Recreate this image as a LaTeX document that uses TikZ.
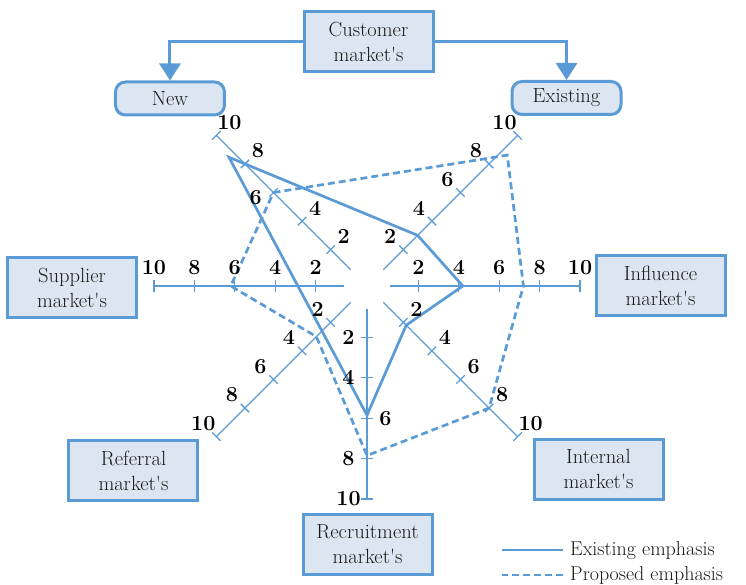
\documentclass[tikz,border=0pt]{standalone}
\usetikzlibrary{arrows.meta}
\definecolor{lineblue}{RGB}{91,155,213}
\definecolor{boxfill}{RGB}{220,230,242}
\newcommand{\mkt}[1]{#1\\market\textquotesingle s}
\begin{document}
\begin{tikzpicture}[x=1pt, y=1pt, font=\fontsize{20.5}{25}\selectfont,
		declare function={gap=11; scl=20.2; ax(\v)=gap+scl*\v;},
		mbox/.style={draw=lineblue, fill=boxfill, line width=3pt, text=black!90,
			minimum width=129pt, minimum height=60pt, align=center, inner sep=0pt},
		rbox/.style={mbox, rounded corners=10pt, minimum width=109pt, minimum height=33pt},
		axis/.style={lineblue, line width=1.3pt},
		emph/.style={lineblue, line width=2.7pt},
		num/.style={font=\fontsize{21.5}{21.5}\selectfont\bfseries, inner sep=0pt}]
		\useasboundingbox (-367,-299) rectangle (379,286);
		% axes with ticks
		\foreach \a in {0,45,135,180,225,270,315}{
			\begin{scope}[rotate=\a]
				\draw[axis] ({ax(0.6)},0) -- ({ax(10)},0);
				\foreach \v in {2,4,6,8,10} \draw[axis] ({ax(\v)},-6) -- ({ax(\v)},6);
			\end{scope}
		}
		% existing and proposed values
		\path 
		(137:{ax(8.8)}) coordinate (eNW)
		(45:{ax(3)}) coordinate (eNE)
		(0:{ax(4.2)}) coordinate (eE)
		(315:{ax(2.2)}) coordinate (eSE)
		(270:{ax(5.85)}) coordinate (eS)
		;
		\path 
		(135:{ax(6)}) coordinate (pNW)
		(43:{ax(8.95)}) coordinate (pNE)
		(0:{ax(7.2)}) coordinate (pE)
		(315:{ax(8)}) coordinate (pSE)
		(270:{ax(7.85)}) coordinate (pS)
		(225:{ax(3)}) coordinate (pSW)
		(180:{ax(6.2)}) coordinate (pW)
		;
		\draw[emph] (eNW)--(eNE)--(eE)--(eSE)--(eS)--cycle;
		\draw[emph, dash pattern=on 7pt off 4pt] (pNW)--(pNE)--(pE)--(pSE)--(pS)--(pSW)--(pW)--cycle;
		% tick labels
		\foreach \a/\g/\k in {0/90/90,45/135/135,135/45/196,180/90/90,225/135/135,270/180/0,315/45/45}{
			\foreach \v in {2,4,6,8,10}{
				\pgfmathsetmacro\lang{\v==6 ? \k : \g}
				\path (\a:{ax(\v)}) node[num, shift={(\lang:18.5)}] {\v};
			}
		}
		% markets
		\node[mbox] (cust) at (1.5,244) {\mkt{Customer}};
		\node[rbox] (new) at (-197,187.5) {New};
		\node[rbox] (exist) at (199.5,188) {Existing};
		\node[mbox] (supp) at (-295,-1.5) {\mkt{Supplier}};
		\node[mbox] (infl) at (293.5,0) {\mkt{Influence}};
		\node[mbox] (refe) at (-233.5,-184.5) {\mkt{Referral}};
		\node[mbox] (inte) at (231.5,-183) {\mkt{Internal}};
		\node[mbox] (recr) at (0.5,-258.5) {\mkt{Recruitment}};
		\draw[lineblue, line width=3pt, -{Triangle[width=21pt,length=17pt]}] (cust.west) -| (new.north);
		\draw[lineblue, line width=3pt, -{Triangle[width=21pt,length=17pt]}] (cust.east) -| (exist.north);
		% legend
		\node[anchor=base west, inner sep=0pt, text=black!90, font=\fontsize{20}{20}\selectfont] (lgE) at (203,-269) {Existing emphasis};
		\node[anchor=base west, inner sep=0pt, text=black!90, font=\fontsize{20}{20}\selectfont] (lgP) at (203,-294) {Proposed emphasis};
		\draw[emph] ([xshift=-7pt]lgE.west) -- +(-61,0);
		\draw[emph, dash pattern=on 7pt off 4pt] ([xshift=-7pt]lgP.west) -- +(-61,0);
	\end{tikzpicture}
\end{document}
